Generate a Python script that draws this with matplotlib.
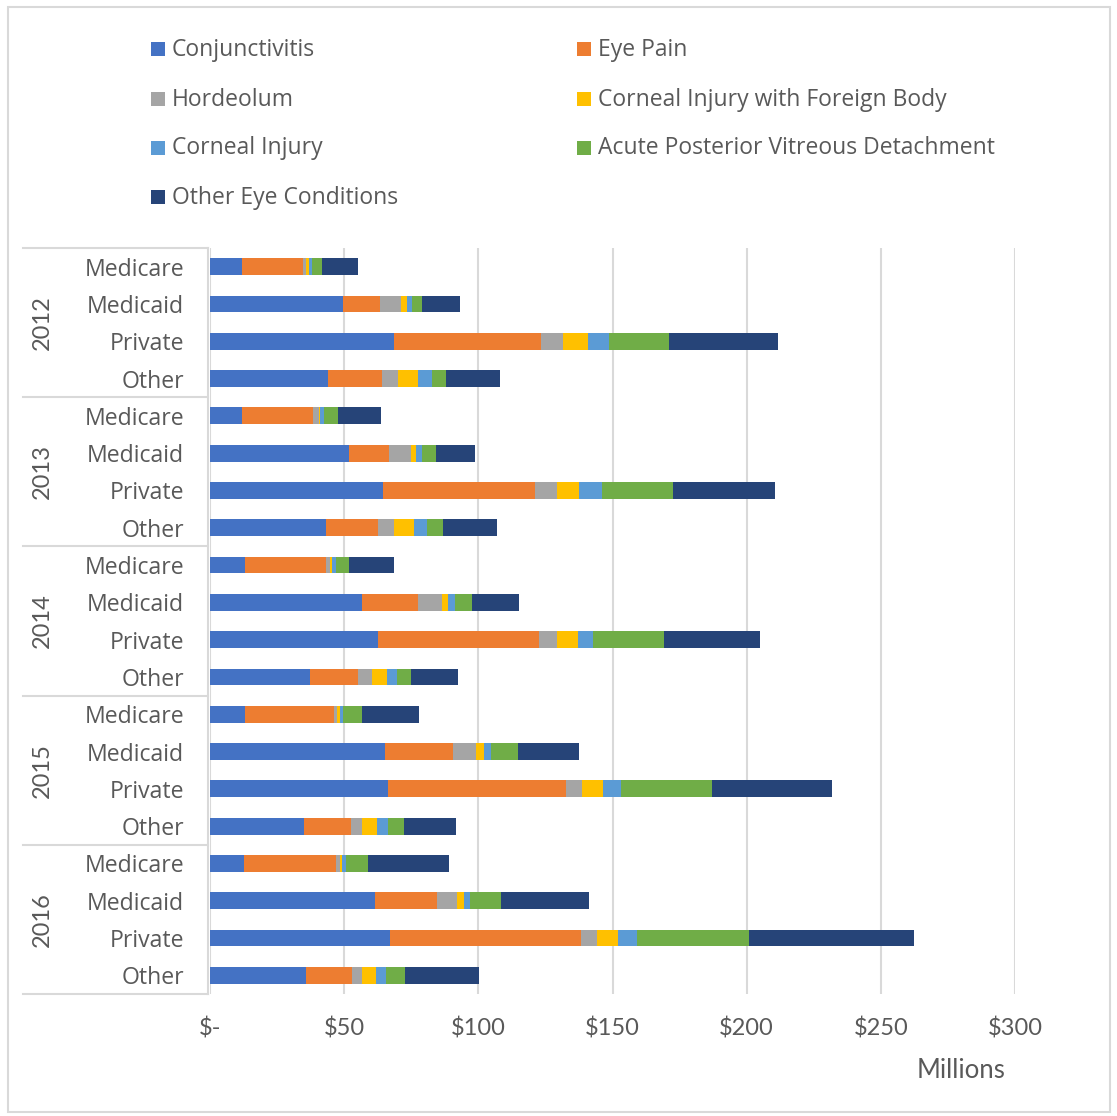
import numpy as np
import matplotlib
matplotlib.use("Agg")
import matplotlib.pyplot as plt
from matplotlib.patches import Rectangle
import matplotlib.transforms as mtransforms

years = ["2012", "2013", "2014", "2015", "2016"]
payers = ["Medicare", "Medicaid", "Private", "Other"]

series_names = ["Conjunctivitis", "Eye Pain", "Hordeolum",
                "Corneal Injury with Foreign Body", "Corneal Injury",
                "Acute Posterior Vitreous Detachment", "Other Eye Conditions"]
colors = ["#4472C4", "#ED7D31", "#A5A5A5", "#FFC000", "#5B9BD5", "#70AD47", "#264478"]

conjunctivitis = [12.0, 49.5, 68.7, 43.8, 12.0, 51.9, 64.5, 43.2, 13.1, 56.8, 62.5, 37.1,
                  13.1, 65.1, 66.2, 34.9, 12.5, 61.4, 67.1, 35.6]
eye_pain = [22.5, 13.8, 54.5, 20.2, 26.5, 14.7, 56.6, 19.3, 30.1, 20.8, 60.2, 18.1,
            33.0, 25.3, 66.3, 17.7, 34.4, 23.1, 71.1, 17.4]
hordeolum = [1.4, 7.9, 8.3, 6.2, 2.2, 8.3, 8.3, 6.2, 1.6, 8.7, 6.7, 5.1,
             1.2, 8.8, 6.3, 4.1, 1.5, 7.4, 6.2, 3.8]
corneal_fb = [1.0, 2.1, 9.3, 7.4, 0.4, 2.0, 8.1, 7.2, 0.6, 2.4, 7.8, 5.7,
              1.1, 2.8, 7.7, 5.7, 0.9, 2.7, 7.7, 5.0]
corneal_injury = [1.2, 2.0, 7.8, 5.0, 1.5, 2.1, 8.6, 4.8, 1.4, 2.6, 5.7, 3.7,
                  1.2, 2.8, 6.8, 3.8, 1.3, 2.4, 7.2, 3.7]
apvd = [3.5, 3.7, 22.4, 5.3, 5.2, 5.2, 26.3, 6.0, 5.1, 6.4, 26.4, 5.2,
        7.1, 10.0, 33.9, 6.1, 8.2, 11.4, 41.5, 7.2]
other_eye = [13.4, 14.0, 40.8, 20.1, 16.1, 14.5, 38.3, 20.3, 16.7, 17.5, 35.8, 17.7,
             21.2, 22.9, 44.5, 19.2, 30.3, 32.7, 61.6, 27.5]

x_ticks = [0, 50, 100, 150, 200, 250, 300]
x_tick_labels = ["$-", "$50", "$100", "$150", "$200", "$250", "$300"]

all_series = [conjunctivitis, eye_pain, hordeolum, corneal_fb, corneal_injury, apvd, other_eye]

TEXT = "#595959"
GRID = "#D9D9D9"
W, H = 1117, 1116

fig = plt.figure(figsize=(W / 100, H / 100), dpi=100)
ax = fig.add_axes([210 / W, 1 - 994 / H, 805 / W, (994 - 248) / H])

n = len(years) * len(payers)
ypos = np.arange(n)
left = np.zeros(n)
for name, vals, col in zip(series_names, all_series, colors):
    vals = np.array(vals)
    ax.barh(ypos, vals, left=left, height=0.45, color=col, label=name, zorder=3, linewidth=0)
    left += vals

ax.set_xlim(0, 300)
ax.set_ylim(n - 0.5, -0.5)
ax.set_xticks(x_ticks)
ax.set_xticklabels(x_tick_labels, fontsize=17, color=TEXT, family=["Lato", "DejaVu Sans"])
ax.set_yticks(ypos)
ax.set_yticklabels(payers * len(years), fontsize=16.6, color=TEXT, family=["Open Sans", "DejaVu Sans"])
ax.tick_params(axis="x", length=0, pad=17)
ax.tick_params(axis="y", length=0, pad=18.5)
ax.grid(axis="x", color=GRID, linewidth=1.5, zorder=0)
for s in ax.spines.values():
    s.set_visible(False)

# multi-level category frame
trans = mtransforms.blended_transform_factory(ax.transAxes, ax.transData)
x0 = (23 - 210) / 805
x1 = (208 - 210) / 805
for g in range(len(years) + 1):
    yb = g * len(payers) - 0.5
    ax.plot([x0, x1], [yb, yb], transform=trans, color=GRID, lw=1.5, clip_on=False)
ax.plot([x1, x1], [-0.5, n - 0.5], transform=trans, color=GRID, lw=1.5, clip_on=False)
for g, yr in enumerate(years):
    yc = g * len(payers) + (len(payers) - 1) / 2
    ax.text((42 - 210) / 805, yc, yr, transform=trans, rotation=90, ha="center", va="center",
            fontsize=17, color=TEXT, family=["Lato", "DejaVu Sans"])

fig.text(961 / W, 1 - 1070 / H, "Millions", ha="center", va="center", fontsize=18.5,
         color=TEXT, family=["Lato", "DejaVu Sans"])

# legend (row-major, two columns)
col_x = [151, 577]
row_y = [49, 98.5, 147.5, 197]
sq = 14
for i, (name, col) in enumerate(zip(series_names, colors)):
    r, c = divmod(i, 2)
    xs, yc = col_x[c], row_y[r]
    fig.patches.append(Rectangle((xs / W, 1 - (yc + sq / 2) / H), sq / W, sq / H,
                                 transform=fig.transFigure, facecolor=col, edgecolor="none"))
    fig.text((xs + 21) / W, 1 - (yc + 1) / H, name, ha="left", va="center", fontsize=16.5,
             color=TEXT, family=["Open Sans", "DejaVu Sans"])

# outer border
fig.patches.append(Rectangle((8 / W, 4 / H), (1110 - 8) / W, (1109 - 4) / H,
                             transform=fig.transFigure, facecolor="none", edgecolor=GRID, lw=1.5))

fig.savefig("out.png", dpi=100)
